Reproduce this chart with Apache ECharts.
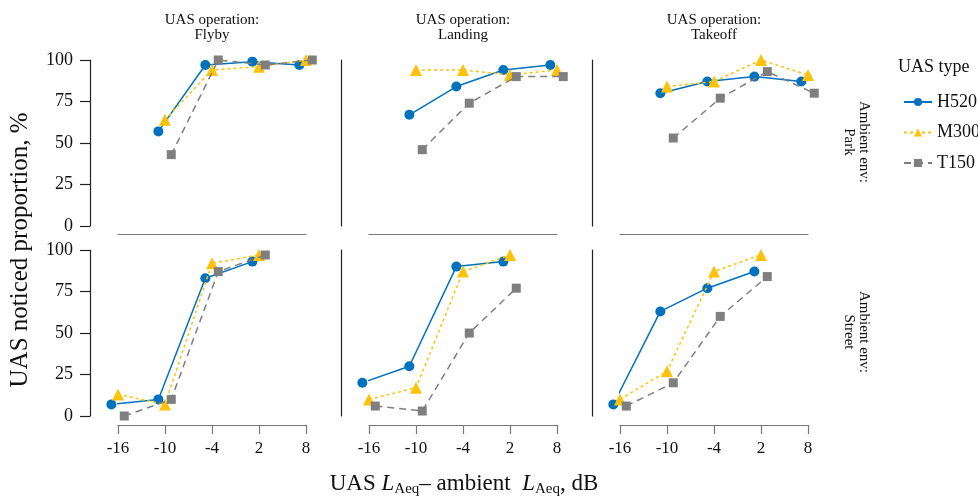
<!DOCTYPE html>
<html>
<head>
<meta charset="utf-8">
<script src="https://cdn.jsdelivr.net/npm/echarts@6/dist/echarts.min.js"></script>
<style>html,body{margin:0;padding:0;background:#fff;}#c{width:978px;height:496px;}</style>
</head>
<body>
<div id="c"></div>
<script>
// ---- data ----
const dB = [-16, -10, -4, 2, 8];
const operations = ['Flyby', 'Landing', 'Takeoff'];
const environments = ['Park', 'Street'];
const uasTypes = ['H520', 'M300', 'T150'];

const park_Flyby_H520   = [null, 57, 97, 99, 97];
const park_Flyby_M300   = [null, 64, 94, 96, 100];
const park_Flyby_T150   = [null, 43, 100, 97, 100];
const park_Landing_H520 = [null, 67, 84, 94, 97];
const park_Landing_M300 = [null, 94, 94, 91, 94];
const park_Landing_T150 = [null, 46, 74, 90, 90];
const park_Takeoff_H520 = [null, 80, 87, 90, 87];
const park_Takeoff_M300 = [null, 84, 87, 100, 91];
const park_Takeoff_T150 = [null, 53, 77, 93, 80];

const street_Flyby_H520   = [7, 10, 83, 93, null];
const street_Flyby_M300   = [13, 7, 92, 97, null];
const street_Flyby_T150   = [0, 10, 87, 97, null];
const street_Landing_H520 = [20, 30, 90, 93, null];
const street_Landing_M300 = [10, 17, 87, 97, null];
const street_Landing_T150 = [6, 3, 50, 77, null];
const street_Takeoff_H520 = [7, 63, 77, 87, null];
const street_Takeoff_M300 = [10, 27, 87, 97, null];
const street_Takeoff_T150 = [6, 20, 60, 84, null];

const panelData = {
  Park: {
    Flyby: [park_Flyby_H520, park_Flyby_M300, park_Flyby_T150],
    Landing: [park_Landing_H520, park_Landing_M300, park_Landing_T150],
    Takeoff: [park_Takeoff_H520, park_Takeoff_M300, park_Takeoff_T150]
  },
  Street: {
    Flyby: [street_Flyby_H520, street_Flyby_M300, street_Flyby_T150],
    Landing: [street_Landing_H520, street_Landing_M300, street_Landing_T150],
    Takeoff: [street_Takeoff_H520, street_Takeoff_M300, street_Takeoff_T150]
  }
};

// ---- styles ----
const FONT = '"Liberation Serif","Times New Roman",serif';
const colors = ['#0072BD', '#FFC20A', '#7F7F7F'];
const symbols = ['circle', 'triangle', 'rect'];
const symbolSizes = [10, 12, 9];
const lineTypes = ['solid', [3, 3], [7, 5]];
const dodge = [-0.85, 0, 0.8];
const X_SHIFT = 16; // axis runs 0..24 so ticks start at a multiple of the interval

const colLeft = [118, 369, 620];
const colWidth = 188;
const rowTop = [60, 250];
const rowHeight = 166;

const grids = [], xAxes = [], yAxes = [], series = [];
let idx = 0;
environments.forEach((env, r) => {
  operations.forEach((op, c) => {
    grids.push({ left: colLeft[c], top: rowTop[r], width: colWidth, height: rowHeight, containLabel: false });
    xAxes.push({
      gridIndex: idx, type: 'value', min: 0, max: 24, interval: 6,
      offset: r === 0 ? 8 : 9,
      axisLine: { show: true, onZero: false, lineStyle: { color: '#777', width: 1.2 } },
      axisTick: { show: r === 1, length: 9, lineStyle: { color: '#777', width: 1.2 } },
      axisLabel: { show: r === 1, margin: 15, fontSize: 17, color: '#111', fontFamily: FONT,
        formatter: v => String(v - X_SHIFT) },
      splitLine: { show: false }
    });
    yAxes.push({
      gridIndex: idx, type: 'value', min: 0, max: 100, interval: 25, offset: 28,
      axisLine: { show: true, onZero: false, lineStyle: { color: '#222', width: 1.2 } },
      axisTick: { show: c === 0, length: 10, lineStyle: { color: '#222', width: 1.2 } },
      axisLabel: { show: c === 0, margin: 17, fontSize: 18, color: '#111', fontFamily: FONT },
      splitLine: { show: false }
    });
    const sets = panelData[env][op];
    uasTypes.forEach((t, k) => {
      const vals = sets[k];
      const data = [];
      dB.forEach((d, i) => { if (vals[i] !== null) data.push([d + X_SHIFT + dodge[k], vals[i]]); });
      series.push({
        name: t, type: 'line', xAxisIndex: idx, yAxisIndex: idx, data: data,
        clip: false, symbol: symbols[k], symbolSize: symbolSizes[k],
        itemStyle: { color: colors[k] },
        lineStyle: { color: colors[k], width: 1.5, type: lineTypes[k] },
        emphasis: { disabled: true }, animation: false, z: 2 + k
      });
    });
    idx++;
  });
});

const graphics = [];
operations.forEach((op, c) => {
  graphics.push({ type: 'text', x: colLeft[c] - 28 + (colWidth + 56) / 2, y: 28,
    style: { text: 'UAS operation:\n' + op, font: '15px ' + FONT, fill: '#111',
      textAlign: 'center', textVerticalAlign: 'middle', lineHeight: 15 } });
});
environments.forEach((env, r) => {
  graphics.push({ type: 'text', x: 856, y: rowTop[r] + rowHeight / 2 - 1, rotation: -Math.PI / 2,
    style: { text: 'Ambient env:\n' + env, font: '15px ' + FONT, fill: '#111',
      textAlign: 'center', textVerticalAlign: 'middle', lineHeight: 15 } });
});
graphics.push({ type: 'text', x: 20, y: 250, rotation: Math.PI / 2,
  style: { text: 'UAS noticed proportion, %', font: '25px ' + FONT, fill: '#111',
    textAlign: 'center', textVerticalAlign: 'middle' } });
graphics.push({ type: 'text', x: 464, y: 484,
  style: {
    text: '{n|UAS }{i|L}{s|Aeq}{n|– ambient  }{i|L}{s|Aeq}{n|, dB}',
    textAlign: 'center', textVerticalAlign: 'middle',
    rich: {
      n: { fontFamily: FONT, fontSize: 23, lineHeight: 26, verticalAlign: 'middle', fill: '#111' },
      i: { fontFamily: FONT, fontSize: 23, fontStyle: 'italic', lineHeight: 26, verticalAlign: 'middle', fill: '#111' },
      s: { fontFamily: FONT, fontSize: 15, lineHeight: 15, verticalAlign: 'bottom', fill: '#111' }
    }
  } });
graphics.push({ type: 'text', x: 898, y: 67,
  style: { text: 'UAS type', font: '18px ' + FONT, fill: '#111', textAlign: 'left', textVerticalAlign: 'middle' } });

const chart = echarts.init(document.getElementById('c'), null, { renderer: 'canvas' });
chart.setOption({
  animation: false,
  backgroundColor: '#fff',
  grid: grids, xAxis: xAxes, yAxis: yAxes, series: series,
  legend: {
    data: uasTypes, orient: 'vertical', left: 898, top: 88,
    itemWidth: 28, itemHeight: 10, itemGap: 12.5,
    textStyle: { fontFamily: FONT, fontSize: 18, color: '#111', lineHeight: 18 },
    selectedMode: false
  },
  graphic: graphics
});
</script>
</body>
</html>
